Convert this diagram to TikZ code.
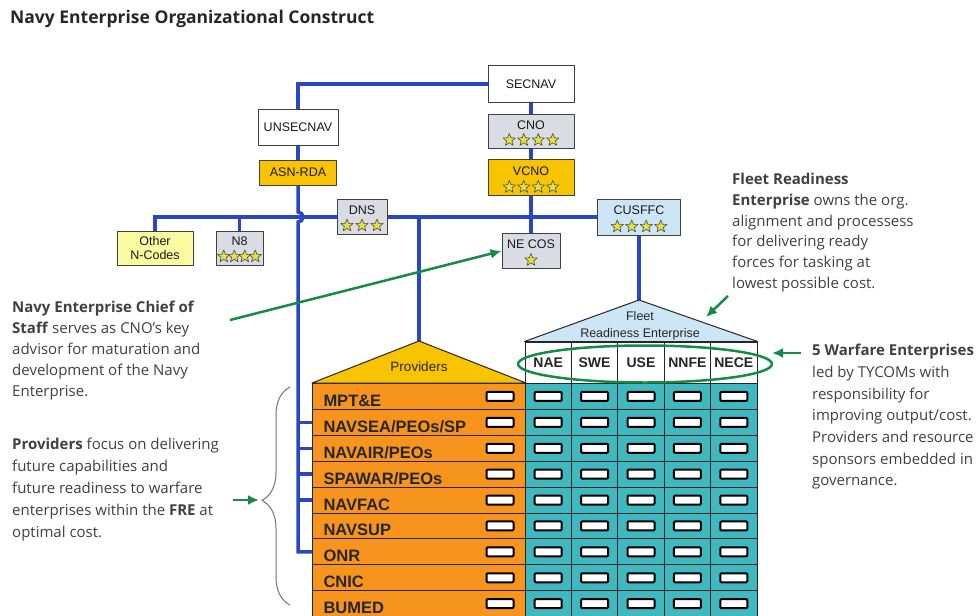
\documentclass[tikz,border=0pt]{standalone}
\usepackage{fontspec}
\setmainfont{Open Sans}
\newfontfamily\boxfont{Liberation Sans}
\usetikzlibrary{shapes, positioning, calc, backgrounds, decorations.pathreplacing, arrows.meta}

\definecolor{navyblue}{RGB}{40,70,200}
\definecolor{notegreen}{RGB}{20,140,70}
\definecolor{boxgray}{RGB}{218,220,228}
\definecolor{boxgold}{RGB}{248,196,0}
\definecolor{boxblue}{RGB}{205,230,245}
\definecolor{paleyellow}{RGB}{250,250,160}
\definecolor{provorange}{RGB}{247,148,30}
\definecolor{weteal}{RGB}{64,184,192}
\definecolor{stargold}{RGB}{228,224,60}

% row of rank stars at the foot of a box: node, count, pitch
\newcommand{\rankstars}[3]{%
  \foreach \k in {1,...,#2}
    \node[rank star] (#1-s\k) at ($(#1.south)+({(\k-(#2+1)/2)*#3},-9)$) {};}

\begin{document}
\begin{tikzpicture}[x=1pt,y=-1pt,>={Latex[length=11pt,width=10pt]},line join=round]

	\tikzset{org box/.style={draw=black!75, line width=1pt, inner sep=1pt,
			font=\boxfont\fontsize{12.5}{13.5}\selectfont, text=black!90, align=center}}
	\tikzset{star box/.style={org box, text depth=13pt}}
	\tikzset{rank star/.style={star, star points=5, star point ratio=2.3,
			minimum size=13pt, inner sep=0pt, draw=black!70, line width=0.6pt, fill=stargold}}
	\tikzset{org link/.style={draw=navyblue, line width=3.5pt}}
	\tikzset{note/.style={anchor=north west, inner sep=0pt, align=left, text=black!75}}
	\tikzset{note arrow/.style={->, draw=notegreen, line width=2.5pt}}
	\tikzset{prov cell/.style={draw=black!85, line width=1pt, fill=provorange,
			anchor=north west, minimum height=25.9pt, text width=191pt, inner xsep=11pt,
			inner ysep=0pt, text height=20pt, text depth=0pt, align=left,
			font=\boxfont\bfseries\fontsize{16.5}{17}\selectfont, text=black!85}}
	\tikzset{we cell/.style={draw=black!85, line width=1pt, fill=weteal,
			minimum width=46.4pt, minimum height=25.9pt, inner sep=0pt}}
	\tikzset{we head/.style={draw=black!85, line width=1pt, fill=white,
			minimum width=46.4pt, minimum height=41pt, inner sep=0pt,
			font=\boxfont\bfseries\fontsize{14}{16}\selectfont, text=black!85}}
	\tikzset{slot/.style={draw=black, line width=2pt, fill=white, rounded corners=1pt,
			minimum width=27pt, minimum height=9pt, inner sep=0pt}}
	\tikzset{roof/.style={draw=black!85, line width=1pt}}

	\useasboundingbox (0,0) rectangle (978,616);

	\node[anchor=base west, inner sep=0pt, font=\bfseries\fontsize{17.5}{19}\selectfont,
		text=black!85] (title) at (10,23) {Navy Enterprise Organizational Construct};

	% chain of command
	\node[org box, minimum width=86pt, minimum height=37pt] (secnav) at (531,84) {SECNAV};
	\node[star box, fill=boxgray, minimum width=86pt, minimum height=34pt, below=11pt of secnav] (cno) {CNO};
	\node[star box, fill=boxgold, minimum width=86pt, minimum height=36pt, below=10pt of cno] (vcno) {VCNO};
	\node[star box, fill=boxgray, minimum width=58pt, minimum height=35pt, below=37pt of vcno] (necos) {NE COS};
	\node[org box, minimum width=80pt, minimum height=36pt] (unsecnav) at (298,127) {UNSECNAV};
	\node[org box, fill=boxgold, minimum width=77pt, minimum height=25pt, below=14pt of unsecnav] (asnrda) {ASN-RDA};
	\node[org box, fill=paleyellow, minimum width=76pt, minimum height=34pt] (othern) at (155,248) {Other\\N-Codes};
	\node[star box, fill=boxgray, minimum width=47pt, minimum height=34pt, right=22pt of othern] (n8) {N8};
	\node[star box, fill=boxgray, minimum width=50pt, minimum height=35pt] (dns) at (362,216.5) {DNS};
	\node[star box, fill=boxblue, minimum width=83pt, minimum height=36pt] (cusffc) at (639,217) {CUSFFC};

	\rankstars{cno}{4}{14.5}
	\rankstars{vcno}{4}{14.5}
	\rankstars{necos}{1}{0}
	\rankstars{n8}{4}{10.5}
	\rankstars{dns}{3}{15}
	\rankstars{cusffc}{4}{14.5}

	% providers and warfare enterprises
	\foreach \name [count=\r] in {MPT\&E, {NAVSEA/PEOs/SP}, {NAVAIR/PEOs}, {SPAWAR/PEOs},
		NAVFAC, NAVSUP, ONR, CNIC, BUMED}
	{
		\node[prov cell] (row\r) at (312, {383+(\r-1)*25.9}) {\name};
		\node[slot] (pslot\r) at ($(row\r.east)+(-26,0)$) {};
	}
	\foreach \name [count=\c] in {NAE, SWE, USE, NNFE, NECE}
		\node[we head] (we\c) at ({525+(\c-0.5)*46.4}, 362.5) {\name};
	\foreach \r in {1,...,9}
		\foreach \c in {1,...,5}
		{
			\node[we cell] (cell\r-\c) at (we\c |- row\r) {};
			\node[slot] (slot\r-\c) at (cell\r-\c) {};
		}

	\coordinate (prov-top) at (419,341);
	\coordinate (fre-top) at (639,300);
	\draw[roof, fill=boxgold] (row1.north west) -- (prov-top) -- (row1.north east) -- cycle;
	\draw[roof, fill=boxblue] (we1.north west) -- (fre-top) -- (we5.north east) -- cycle;
	\node[font=\boxfont\fontsize{13.5}{15}\selectfont, text=black!85] (prov-label) at (419,367) {Providers};
	\node[font=\boxfont\fontsize{12.5}{17}\selectfont, text=black!85, align=center, inner sep=0pt]
		(fre-label) at (640,326) {Fleet\\Readiness Enterprise};
	\node[ellipse, draw=notegreen, line width=2.5pt, minimum width=254pt, minimum height=37pt]
		(we-ring) at (645,364) {};

	\begin{scope}[on background layer]
		\draw[org link] (secnav.west) -| (unsecnav.north);
		\draw[org link] (unsecnav) -- (asnrda);
		\draw[org link] (asnrda.south) -- ($(asnrda.south |- cusffc.west)+(0,-5)$)
			arc[start angle=90, end angle=-90, radius=5pt] -- (asnrda.south |- row7.west) -- (row7.west);
		\foreach \r in {2,3,4,5}
			\draw[org link] (asnrda.south |- row\r.west) -- (row\r.west);
		\draw[org link] (othern.north) |- (cusffc.west);
		\draw[org link] (n8.north) -- (n8.north |- cusffc.west);
		\draw[org link] (secnav) -- (cno) -- (vcno) -- (necos);
		\draw[org link] (prov-top) -- (prov-top |- cusffc.west);
		\draw[org link] (cusffc) -- (fre-top);
	\end{scope}

	% notes
	\node[note, font=\fontsize{15}{21}\selectfont] (cos-note) at (12,301)
		{\textbf{Navy Enterprise Chief of}\\\textbf{Staff} serves as CNO's key\\advisor for maturation and\\development of the Navy\\Enterprise.};
	\node[note, font=\fontsize{15}{22}\selectfont] (prov-note) at (12,438)
		{\textbf{Providers} focus on delivering\\future capabilities and\\future readiness to warfare\\enterprises within the \textbf{FRE} at\\optimal cost.};
	\node[note, font=\fontsize{15}{20.7}\selectfont] (fre-note) at (732,173)
		{\textbf{Fleet Readiness}\\\textbf{Enterprise} owns the org.\\alignment and processess\\for delivering ready\\forces for tasking at\\lowest possible cost.};
	\node[note, font=\fontsize{15}{21.7}\selectfont] (we-note) at (812,344)
		{\textbf{5 Warfare Enterprises}\\led by TYCOMs with\\responsibility for\\improving output/cost.\\Providers and resource\\sponsors embedded in\\governance.};

	\coordinate (cos-tail) at (230,320);
	\coordinate (fre-tail) at (728,296);
	\coordinate (fre-tip) at (706,317);
	\coordinate (we-tail) at (801,353);
	\coordinate (we-tip) at (772,353);
	\coordinate (prov-tail) at (233,500);
	\coordinate (brace-tip) at (259,500);
	\draw[note arrow] (cos-tail) -- (necos.west);
	\draw[note arrow] (fre-tail) -- (fre-tip);
	\draw[note arrow] (we-tail) -- (we-tip);
	\draw[note arrow] (prov-tail) -- (brace-tip);
	\draw[black!55, line width=1pt, decorate, decoration={brace, amplitude=28pt, aspect=0.48}]
		(290,605) -- (290,387);

\end{tikzpicture}
\end{document}
